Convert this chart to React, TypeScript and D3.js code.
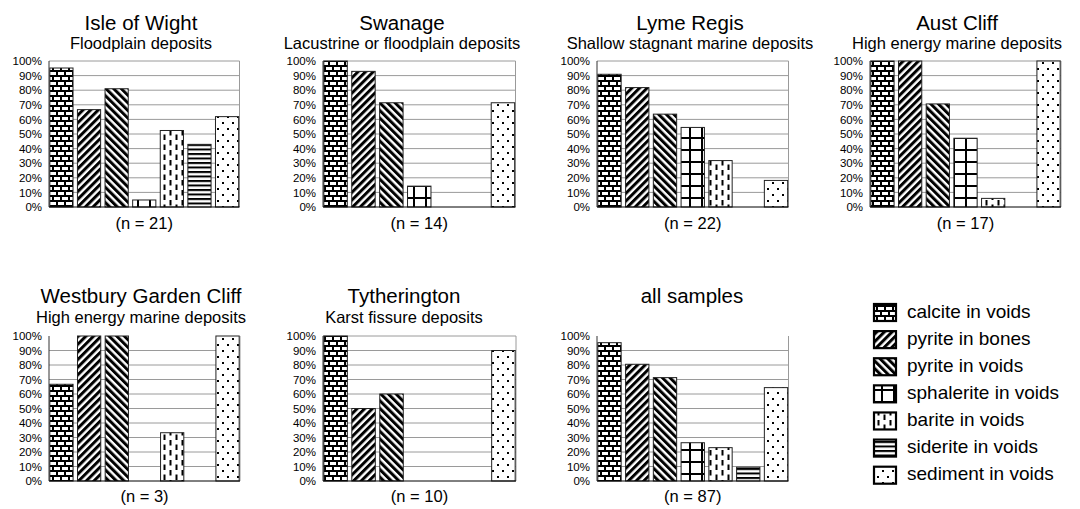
import React from "react";
import * as d3 from "d3";

// ---------- data ----------
const minerals = [
  "calcite in voids",
  "pyrite in bones",
  "pyrite in voids",
  "sphalerite in voids",
  "barite in voids",
  "siderite in voids",
  "sediment in voids",
];
const sites = [
  "Isle of Wight",
  "Swanage",
  "Lyme Regis",
  "Aust Cliff",
  "Westbury Garden Cliff",
  "Tytherington",
  "all samples",
];
const subtitles = [
  "Floodplain deposits",
  "Lacustrine or floodplain deposits",
  "Shallow stagnant marine deposits",
  "High energy marine deposits",
  "High energy marine deposits",
  "Karst fissure deposits",
  "",
];
const sampleCounts = [21, 14, 22, 17, 3, 10, 87];

const isleOfWight = [95.2, 66.7, 81.0, 4.8, 52.4, 42.9, 61.9];
const swanage = [100, 92.9, 71.4, 14.3, 0, 0, 71.4];
const lymeRegis = [90.9, 81.8, 63.6, 54.5, 31.8, 0, 18.2];
const austCliff = [100, 100, 70.6, 47.1, 5.9, 0, 100];
const westbury = [66.7, 100, 100, 0, 33.3, 0, 100];
const tytherington = [100, 50, 60, 0, 0, 0, 90];
const allSamples = [95.4, 80.5, 71.3, 26.4, 23.0, 9.5, 64.4];
const siteValues = [isleOfWight, swanage, lymeRegis, austCliff, westbury, tytherington, allSamples];

const yTicks = [0, 10, 20, 30, 40, 50, 60, 70, 80, 90, 100];
const patternIds = ["p-calcite", "p-bones", "p-pvoids", "p-sphal", "p-barite", "p-siderite", "p-sediment"];

// ---------- layout ----------
const FONT = "'Liberation Sans', Arial, Helvetica, sans-serif";
const panels = [
  { l: 49, r: 239.5, t: 61, b: 207, tc: 141, ty: 30, sy: 48.5, ny: 229, topLine: true },
  { l: 323, r: 515.5, t: 61, b: 207, tc: 402, ty: 30, sy: 48.5, ny: 229, topLine: true },
  { l: 597, r: 788.5, t: 61, b: 207, tc: 690, ty: 30, sy: 48.5, ny: 229, topLine: true },
  { l: 870, r: 1061, t: 61, b: 207, tc: 957, ty: 30, sy: 48.5, ny: 229, topLine: true },
  { l: 49, r: 240, t: 336, b: 481, tc: 141, ty: 302.5, sy: 323, ny: 502, topLine: false },
  { l: 323, r: 516, t: 336, b: 481, tc: 404, ty: 302.5, sy: 323, ny: 502, topLine: true },
  { l: 597, r: 788.5, t: 336, b: 481, tc: 692, ty: 303, sy: 323, ny: 502, topLine: false },
];

function Patterns() {
  return (
    <defs>
      <pattern id="p-calcite" patternUnits="userSpaceOnUse" width={8} height={10}>
        <rect width={8} height={10} fill="#fff" />
        <rect x={0} y={0} width={8} height={2} fill="#000" />
        <rect x={0} y={5} width={8} height={2} fill="#000" />
        <rect x={0} y={0} width={2} height={5} fill="#000" />
        <rect x={4} y={5} width={2} height={5} fill="#000" />
      </pattern>
      <pattern id="p-bones" patternUnits="userSpaceOnUse" width={5.4} height={5.4} patternTransform="rotate(45)">
        <rect width={5.4} height={5.4} fill="#fff" />
        <rect width={3} height={5.4} fill="#000" />
      </pattern>
      <pattern id="p-pvoids" patternUnits="userSpaceOnUse" width={5.4} height={5.4} patternTransform="rotate(-45)">
        <rect width={5.4} height={5.4} fill="#fff" />
        <rect width={3} height={5.4} fill="#000" />
      </pattern>
      <pattern id="p-sphal" patternUnits="userSpaceOnUse" width={12} height={12}>
        <rect width={12} height={12} fill="#fff" />
        <rect x={5} y={0} width={2} height={12} fill="#000" />
        <rect x={0} y={5} width={12} height={2} fill="#000" />
      </pattern>
      <pattern id="p-barite" patternUnits="userSpaceOnUse" width={12} height={10}>
        <rect width={12} height={10} fill="#fff" />
        <rect x={1.5} y={0} width={2} height={5.5} fill="#000" />
        <rect x={7.5} y={4.5} width={2} height={5.5} fill="#000" />
      </pattern>
      <pattern id="p-siderite" patternUnits="userSpaceOnUse" width={8} height={4.5}>
        <rect width={8} height={4.5} fill="#fff" />
        <rect x={0} y={0} width={8} height={2} fill="#000" />
      </pattern>
      <pattern id="p-sediment" patternUnits="userSpaceOnUse" width={10} height={12}>
        <rect width={10} height={12} fill="#fff" />
        <rect x={2} y={2} width={2} height={2} fill="#000" />
        <rect x={7} y={8} width={2} height={2} fill="#000" />
      </pattern>
    </defs>
  );
}

function Panel({ idx }: { idx: number }) {
  const p = panels[idx];
  const values = siteValues[idx];
  const x = d3.scaleBand<string>().domain(minerals).range([p.l, p.r]).paddingInner(0.16).paddingOuter(0.03);
  const y = d3.scaleLinear().domain([0, 100]).range([p.b, p.t]);
  const cx = (p.l + p.r) / 2;
  return (
    <g>
      <text x={p.tc} y={p.ty} fontSize={20.5} textAnchor="middle" fontFamily={FONT} fill="#000">
        {sites[idx]}
      </text>
      {subtitles[idx] && (
        <text x={p.tc} y={p.sy} fontSize={16.5} textAnchor="middle" fontFamily={FONT} fill="#000">
          {subtitles[idx]}
        </text>
      )}
      {yTicks.map((t) =>
        t === 0 || (t === 100 && !p.topLine) ? null : (
          <line key={"g" + t} x1={p.l} x2={p.r} y1={y(t)} y2={y(t)} stroke="#9a9a9a" strokeWidth={1} />
        )
      )}
      <line x1={p.r} x2={p.r} y1={p.t} y2={p.b} stroke="#9a9a9a" strokeWidth={1} />
      {yTicks.map((t) => (
        <text
          key={"t" + t}
          x={p.l - 7}
          y={y(t)}
          dy="0.36em"
          fontSize={11.5}
          textAnchor="end"
          fontFamily={FONT}
          fill="#000"
        >
          {t + "%"}
        </text>
      ))}
      {minerals.map((m, i) =>
        values[i] > 0 ? (
          <rect
            key={m}
            x={x(m)}
            y={y(values[i])}
            width={x.bandwidth()}
            height={y(0) - y(values[i])}
            fill={`url(#${patternIds[i]})`}
            stroke="#222"
            strokeWidth={1}
          />
        ) : null
      )}
      <line x1={p.l} x2={p.l} y1={p.t} y2={p.b} stroke="#333" strokeWidth={1} />
      <line x1={p.l} x2={p.r} y1={p.b} y2={p.b} stroke="#000" strokeWidth={1} />
      <text x={cx} y={p.ny} fontSize={16.5} textAnchor="middle" fontFamily={FONT} fill="#000">
        {`(n = ${sampleCounts[idx]})`}
      </text>
    </g>
  );
}

function Legend() {
  const ly = d3.scalePoint<string>().domain(minerals).range([304, 466.7]);
  return (
    <g>
      {minerals.map((m, i) => (
        <g key={m}>
          <rect x={874} y={ly(m)} width={22} height={17} fill={`url(#${patternIds[i]})`} stroke="#000" strokeWidth={2.2} />
          <text x={907} y={(ly(m) as number) + 13.5} fontSize={19} fontFamily={FONT} fill="#000">
            {m}
          </text>
        </g>
      ))}
    </g>
  );
}

export default function App() {
  return (
    <svg
      width={1080}
      height={509}
      viewBox="0 0 1080 509"
      style={{ position: "absolute", left: 0, top: 0, background: "#fff" }}
    >
      <Patterns />
      <rect width={1080} height={509} fill="#fff" />
      {sites.map((s, i) => (
        <Panel key={s} idx={i} />
      ))}
      <Legend />
    </svg>
  );
}
